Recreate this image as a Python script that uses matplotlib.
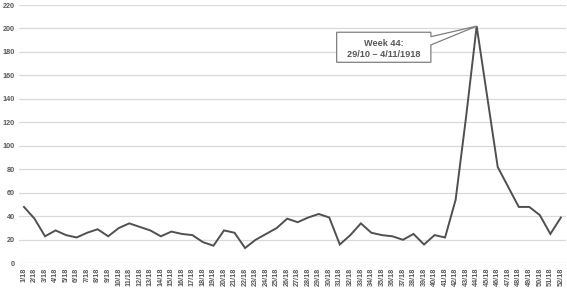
import matplotlib
matplotlib.use("Agg")
import matplotlib.pyplot as plt
from matplotlib.patches import Polygon
import numpy as np

weeks = [f"{i}/18" for i in range(1, 53)]
deaths = [48, 38, 23, 28, 24, 22, 26, 29, 23, 30,
          34, 31, 28, 23, 27, 25, 24, 18, 15, 28,
          26, 13, 20, 25, 30, 38, 35, 39, 42, 39,
          16, 24, 34, 26, 24, 23, 20, 25, 16, 24,
          22, 54, 125, 202, 142, 82, 65, 48, 48, 41,
          25, 39]
yticks = list(range(0, 221, 20))
note_lines = ["Week 44:", "29/10 \u2013 4/11/1918"]

plt.rcParams['font.family'] = ['Liberation Sans', 'DejaVu Sans']
fig = plt.figure(figsize=(5.67, 2.88), dpi=100)
ax = fig.add_axes([0.033, 0.0858, 0.9655, 0.8968])

x = np.arange(len(weeks))
ax.plot(x, deaths, color='#505050', lw=1.4, solid_joinstyle='miter', zorder=3)

ax.set_xlim(-0.5, len(weeks) - 0.5)
ax.set_ylim(0, 220)
ax.set_yticks(yticks)
ax.set_xticks(x)
ax.set_xticklabels(weeks, rotation=90, fontsize=5.2, color='#595959', fontweight='bold')
ax.set_yticklabels([str(v) for v in yticks], fontsize=5.2, color='#595959', fontweight='bold')
ax.tick_params(length=0, pad=3)
ax.tick_params(axis='x', pad=3)
ax.grid(axis='y', color='#d9d9d9', lw=0.9)
ax.set_axisbelow(True)
for s in ax.spines.values():
    s.set_visible(False)

# callout
pk = int(np.argmax(deaths))
tip = (x[pk], deaths[pk])
bx0, bx1 = 29.7, 38.65
by0, by1 = 171.2, 196.8
poly = Polygon([(bx0, by1), (bx1, by1), (bx1, 193), tip, (bx1, 186),
                (bx1, by0), (bx0, by0)], closed=True,
               facecolor='white', edgecolor='#7f7f7f', lw=0.9, zorder=4)
ax.add_patch(poly)
cx = (bx0 + bx1) / 2
ax.text(cx, 187.4, note_lines[0], ha='center', va='center', fontsize=6.6,
        fontweight='bold', color='#595959', zorder=5)
ax.text(cx, 178.0, note_lines[1], ha='center', va='center', fontsize=6.6,
        fontweight='bold', color='#595959', zorder=5)

fig.savefig("out.png", dpi=100)
